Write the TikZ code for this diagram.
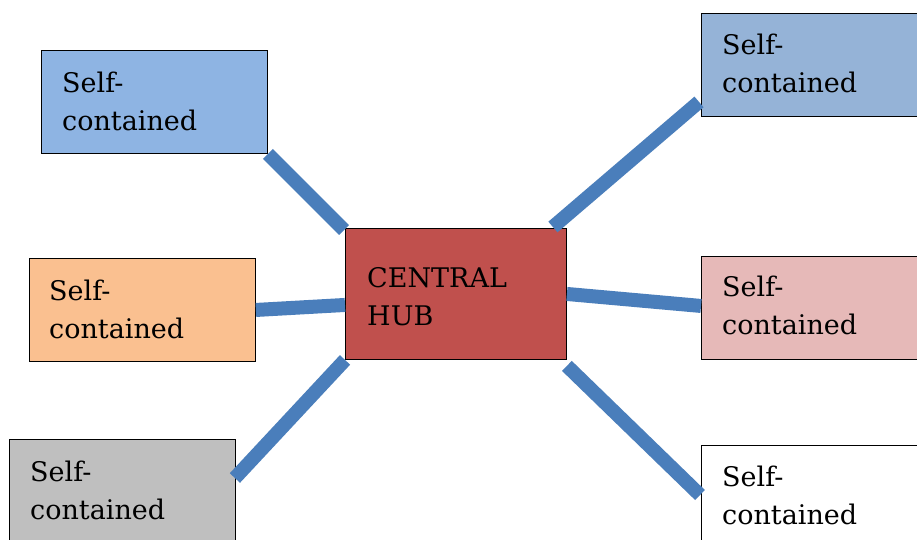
\documentclass[tikz,border=0pt]{standalone}
\usepackage{fontspec}
\setmainfont{DejaVu Serif}
\usetikzlibrary{calc}
\definecolor{cTL}{HTML}{8EB4E3}
\definecolor{cTR}{HTML}{95B3D7}
\definecolor{cML}{HTML}{FAC090}
\definecolor{cBL}{HTML}{BFBFBF}
\definecolor{cMR}{HTML}{E6B9B8}
\definecolor{cHub}{HTML}{C0504D}
\definecolor{cLine}{HTML}{4A7EBB}
\tikzset{
  box/.style={draw=black, line width=0.9pt, rectangle, inner sep=0pt, anchor=north west,
              minimum width=226pt, minimum height=103pt},
  lbl/.style={anchor=north west, inner sep=0pt, align=left,
              font=\fontsize{27}{38}\selectfont},
  conn/.style={draw=cLine, line width=14pt}
}
\begin{document}
\begin{tikzpicture}[x=1pt, y=-1pt]
\useasboundingbox (0,0) rectangle (917,539);
\clip (0,0) rectangle (917,539);
\fill[white] (0,0) rectangle (917,539);
% boxes
\node[box, fill=cTL] (tl) at (41,50) {};
\node[box, fill=cTR] (tr) at (701,13) {};
\node[box, fill=cML] (ml) at (29,258) {};
\node[box, fill=cMR] (mr) at (701,256) {};
\node[box, fill=cBL] (bl) at (9,439) {};
\node[box, fill=white] (br) at (701,445) {};
\node[box, fill=cHub, minimum width=221pt, minimum height=131pt] (hub) at (345,228) {};
% texts
\node[lbl] (tlt) at ($(tl.north west)+(21,12)$) {\rule{0pt}{30pt}Self-\\contained};
\node[lbl] (trt) at ($(tr.north west)+(21,11)$) {\rule{0pt}{30pt}Self-\\contained};
\node[lbl] (mlt) at ($(ml.north west)+(20,12)$) {\rule{0pt}{30pt}Self-\\contained};
\node[lbl] (mrt) at ($(mr.north west)+(21,10)$) {\rule{0pt}{30pt}Self-\\contained};
\node[lbl] (blt) at ($(bl.north west)+(21,12)$) {\rule{0pt}{30pt}Self-\\contained};
\node[lbl] (brt) at ($(br.north west)+(21,11)$) {\rule{0pt}{30pt}Self-\\contained};
\node[lbl] (hubt) at ($(hub.north west)+(22,29)$) {\rule{0pt}{30pt}CENTRAL\\HUB};
% connectors
\draw[conn] (tl.south east) -- ($(hub.north west)+(-1,2)$);
\draw[conn] ($(hub.north east)+(-14,-1)$) -- ($(tr.south west)+(-2,-15)$);
\draw[conn] (ml.east) -- ($(hub.west)+(0,11)$);
\draw[conn] ($(bl.north east)+(-1,39)$) -- (hub.south west);
\draw[conn] (hub.east) -- ($(mr.west)+(0,-2)$);
\draw[conn] ($(hub.south east)+(0,6)$) -- ($(br.north west)+(-1,50)$);
\end{tikzpicture}
\end{document}
